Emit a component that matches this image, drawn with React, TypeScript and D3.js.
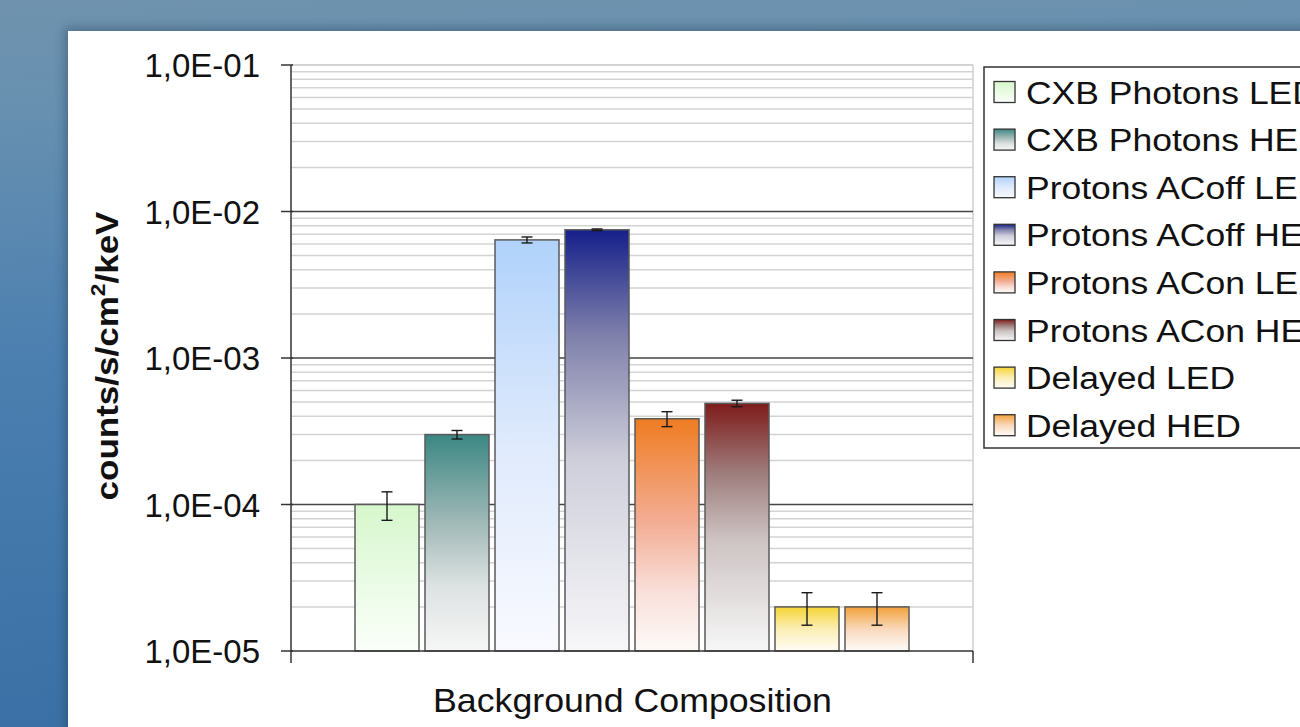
import React, { useEffect } from "react";
import * as d3 from "d3";

// Background composition per component (counts/s/cm²/keV)
const categories = ["Background Composition"];
const seriesNames = [
  "CXB Photons LED",
  "CXB Photons HED",
  "Protons ACoff LED",
  "Protons ACoff HED",
  "Protons ACon LED",
  "Protons ACon HED",
  "Delayed LED",
  "Delayed HED",
];
const seriesValues = [1.0e-4, 3.0e-4, 6.4e-3, 7.5e-3, 3.85e-4, 4.9e-4, 2.0e-5, 2.0e-5];
const seriesErrors = [2.2e-5, 2.0e-5, 3.0e-4, 1.0e-4, 4.5e-5, 2.5e-5, 5.0e-6, 5.0e-6];
// gradient stops per series, top of bar to bottom: [offset, colour]
const seriesGradients: [number, string][][] = [
  [[0, "#d6f7cc"], [0.5, "#e9fbe4"], [1, "#fbfffa"]],
  [[0, "#3b8783"], [0.4, "#9fb8b6"], [0.7, "#dde2e2"], [1, "#f6f6f6"]],
  [[0, "#b0d2fb"], [0.5, "#dfeafc"], [1, "#f9faff"]],
  [[0, "#15208a"], [0.25, "#7f80ab"], [0.55, "#cfcfdc"], [1, "#f7f7f9"]],
  [[0, "#ef7c22"], [0.45, "#f3ae96"], [0.75, "#f9e0da"], [1, "#fefaf8"]],
  [[0, "#7e1c1a"], [0.28, "#9e7c7c"], [0.55, "#cdc3c3"], [1, "#f7f7f7"]],
  [[0, "#f5d535"], [0.5, "#fbeeb4"], [1, "#fffdf6"]],
  [[0, "#f2a23a"], [0.5, "#f9d8bb"], [1, "#fffcf8"]],
];
const yTickValues = [1e-1, 1e-2, 1e-3, 1e-4, 1e-5];
const yTickLabels = ["1,0E-01", "1,0E-02", "1,0E-03", "1,0E-04", "1,0E-05"];

const W = 1300;
const H = 727;
const plot = { left: 291, right: 973, top: 65, bottom: 651 };
const FONT = "'Liberation Sans', Arial, sans-serif";

export default function App() {
  useEffect(() => {
    document.body.style.margin = "0";
  }, []);

  const y = d3.scaleLog().domain([1e-5, 1e-1]).range([plot.bottom, plot.top]);
  const x0 = d3
    .scaleBand<string>()
    .domain(categories)
    .range([plot.left, plot.right])
    .paddingInner(0)
    .paddingOuter(61 / 560);
  const x1 = d3
    .scaleBand<string>()
    .domain(seriesNames)
    .range([0, x0.bandwidth()])
    .paddingInner(6 / 70)
    .paddingOuter(3 / 70);

  const minorTicks: number[] = [];
  for (let e = -5; e <= -2; e++) {
    for (let m = 2; m <= 9; m++) minorTicks.push(m * Math.pow(10, e));
  }

  const legend = { x: 984, y: 67, w: 340, h: 381, rowStep: 47.6, firstRow: 92 };

  return (
    <svg
      width={W}
      height={H}
      style={{ position: "absolute", left: 0, top: 0, display: "block" }}
      fontFamily={FONT}
    >
      <defs>
        <linearGradient id="slideBg" x1="0" y1="0" x2="0.08" y2="1">
          <stop offset="0" stopColor="#6f93ae" />
          <stop offset="0.15" stopColor="#6790b0" />
          <stop offset="0.5" stopColor="#4b7fb0" />
          <stop offset="1" stopColor="#3a70a5" />
        </linearGradient>
        <filter id="panelShadow" x="-5%" y="-5%" width="110%" height="110%">
          <feGaussianBlur stdDeviation="5" />
        </filter>
        {seriesNames.map((s, i) => (
          <linearGradient key={s} id={`grad${i}`} x1="0" y1="0" x2="0" y2="1">
            {seriesGradients[i].map(([o, c]) => (
              <stop key={o} offset={o} stopColor={c} />
            ))}
          </linearGradient>
        ))}
      </defs>

      {/* slide background and white chart panel */}
      <rect x={0} y={0} width={W} height={H} fill="url(#slideBg)" />
      <rect
        x={64}
        y={27}
        width={W}
        height={H}
        fill="#1d3550"
        opacity={0.35}
        filter="url(#panelShadow)"
      />
      <rect x={68} y={31} width={W - 68} height={H - 31} fill="#ffffff" />

      {/* minor gridlines */}
      {minorTicks.map((v) => (
        <line
          key={`m${v}`}
          x1={plot.left}
          x2={plot.right}
          y1={y(v)}
          y2={y(v)}
          stroke="#d3d3d3"
          strokeWidth={1.5}
        />
      ))}
      {/* top boundary gridline */}
      <line
        x1={plot.left}
        x2={plot.right}
        y1={y(1e-1)}
        y2={y(1e-1)}
        stroke="#c4c4c4"
        strokeWidth={1.5}
      />
      {/* right boundary */}
      <line
        x1={plot.right}
        x2={plot.right}
        y1={plot.top}
        y2={plot.bottom}
        stroke="#cfcfcf"
        strokeWidth={1.5}
      />
      {/* major gridlines */}
      {[1e-2, 1e-3, 1e-4].map((v) => (
        <line
          key={`M${v}`}
          x1={plot.left}
          x2={plot.right}
          y1={y(v)}
          y2={y(v)}
          stroke="#444444"
          strokeWidth={1.5}
        />
      ))}

      {/* bars */}
      {categories.map((c) => (
        <g key={c} transform={`translate(${x0(c)},0)`}>
          {seriesNames.map((s, i) => {
            const bx = x1(s)!;
            const top = y(seriesValues[i]);
            return (
              <rect
                key={s}
                x={bx}
                y={top}
                width={x1.bandwidth()}
                height={plot.bottom - top}
                fill={`url(#grad${i})`}
                stroke="#5a5a5a"
                strokeWidth={1.5}
              />
            );
          })}
          {/* error bars */}
          {seriesNames.map((s, i) => {
            const cx = x1(s)! + x1.bandwidth() / 2;
            const hi = y(seriesValues[i] + seriesErrors[i]);
            const lo = y(seriesValues[i] - seriesErrors[i]);
            return (
              <g key={`e${s}`} stroke="#1a1a1a" strokeWidth={1.4}>
                <line x1={cx} x2={cx} y1={hi} y2={lo} />
                <line x1={cx - 5.5} x2={cx + 5.5} y1={hi} y2={hi} />
                <line x1={cx - 5.5} x2={cx + 5.5} y1={lo} y2={lo} />
              </g>
            );
          })}
        </g>
      ))}

      {/* axes */}
      <line
        x1={plot.left}
        x2={plot.left}
        y1={plot.top}
        y2={plot.bottom + 12}
        stroke="#333333"
        strokeWidth={1.5}
      />
      <line
        x1={plot.left}
        x2={plot.right}
        y1={plot.bottom}
        y2={plot.bottom}
        stroke="#333333"
        strokeWidth={1.5}
      />
      <line
        x1={plot.right}
        x2={plot.right}
        y1={plot.bottom}
        y2={plot.bottom + 12}
        stroke="#333333"
        strokeWidth={1.5}
      />
      {yTickValues.map((v, i) => (
        <g key={`t${v}`}>
          <line
            x1={plot.left - 10}
            x2={plot.left + 2}
            y1={y(v)}
            y2={y(v)}
            stroke="#333333"
            strokeWidth={1.5}
          />
          <text
            x={260}
            y={y(v) + 12}
            textAnchor="end"
            fontSize={33}
            fill="#111111"
          >
            {yTickLabels[i]}
          </text>
        </g>
      ))}

      {/* axis titles */}
      <text
        x={632.5}
        y={712}
        textAnchor="middle"
        fontSize={33}
        fill="#111111"
        textLength={399}
        lengthAdjust="spacingAndGlyphs"
      >
        {categories[0]}
      </text>
      <g transform="translate(118,356) rotate(-90) scale(1.13,1)">
        <text textAnchor="middle" fontSize={31} fontWeight="bold" fill="#111111">
          counts/s/cm
          <tspan fontSize={20} dy={-13}>
            2
          </tspan>
          <tspan dy={13}>/keV</tspan>
        </text>
      </g>

      {/* legend */}
      <rect
        x={legend.x}
        y={legend.y}
        width={legend.w}
        height={legend.h}
        fill="#ffffff"
        stroke="#333333"
        strokeWidth={1.5}
      />
      {seriesNames.map((s, i) => {
        const cy = legend.firstRow + i * legend.rowStep;
        return (
          <g key={`l${s}`}>
            <rect
              x={994}
              y={cy - 10.5}
              width={21}
              height={21}
              fill={`url(#grad${i})`}
              stroke="#333333"
              strokeWidth={1.3}
            />
            <g transform={`translate(1026,${cy + 11.5}) scale(1.145,1)`}>
              <text x={0} y={0} fontSize={31} fill="#111111">
                {s}
              </text>
            </g>
          </g>
        );
      })}
    </svg>
  );
}
